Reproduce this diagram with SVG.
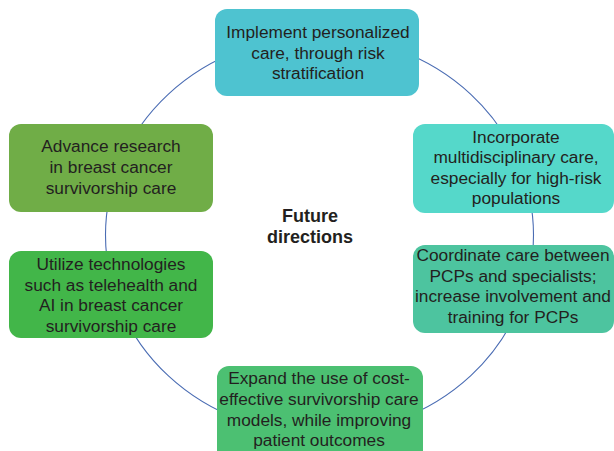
<svg xmlns="http://www.w3.org/2000/svg" width="614" height="451" viewBox="0 0 614 451">
  <style>
    .box { stroke: none; }
    .label { font-family: "Liberation Sans", Arial, sans-serif; font-size: 17.3px; fill: #231f20; text-anchor: middle; }
    .center { font-family: "Liberation Sans", Arial, sans-serif; font-size: 18px; font-weight: bold; fill: #231f20; text-anchor: middle; }
    .ring { fill: none; stroke: #4a6cb3; stroke-width: 1.1; }
  </style>
  <rect width="614" height="451" fill="#ffffff"/>

  <!-- connecting ring behind the nodes -->
  <g id="connectors">
    <ellipse class="ring" cx="319.5" cy="235" rx="214" ry="199"/>
  </g>

  <g id="center-label">
    <text class="center" x="310" y="222">Future</text>
    <text class="center" x="310" y="243">directions</text>
  </g>

  <g id="node-personalized">
    <rect class="box" x="215" y="9" width="204" height="87" rx="12" fill="#4ec3d0"/>
    <text class="label" x="318" y="38">Implement personalized</text>
    <text class="label" x="318" y="58.5">care, through risk</text>
    <text class="label" x="318" y="79">stratification</text>
  </g>

  <g id="node-multidisciplinary">
    <rect class="box" x="413" y="124" width="201" height="89" rx="12" fill="#55d8ca"/>
    <text class="label" x="516" y="142.5">Incorporate</text>
    <text class="label" x="516" y="163">multidisciplinary care,</text>
    <text class="label" x="516" y="183.5">especially for high-risk</text>
    <text class="label" x="516" y="204">populations</text>
  </g>

  <g id="node-coordinate">
    <rect class="box" x="413" y="245" width="201" height="88" rx="12" fill="#4dc49f"/>
    <text class="label" x="513" y="261">Coordinate care between</text>
    <text class="label" x="513" y="281.5">PCPs and specialists;</text>
    <text class="label" x="513" y="302">increase involvement and</text>
    <text class="label" x="513" y="322.5">training for PCPs</text>
  </g>

  <g id="node-cost-effective">
    <rect class="box" x="217" y="366" width="206" height="100" rx="12" fill="#4cc072"/>
    <text class="label" x="319" y="384">Expand the use of cost-</text>
    <text class="label" x="319" y="405">effective survivorship care</text>
    <text class="label" x="319" y="426">models, while improving</text>
    <text class="label" x="319" y="446">patient outcomes</text>
  </g>

  <g id="node-technologies">
    <rect class="box" x="9" y="251" width="204" height="87" rx="12" fill="#42b649"/>
    <text class="label" x="111" y="270">Utilize technologies</text>
    <text class="label" x="111" y="290.5">such as telehealth and</text>
    <text class="label" x="111" y="311">AI in breast cancer</text>
    <text class="label" x="111" y="331.5">survivorship care</text>
  </g>

  <g id="node-research">
    <rect class="box" x="9" y="124" width="204" height="88" rx="12" fill="#70ad47"/>
    <text class="label" x="111" y="152">Advance research</text>
    <text class="label" x="111" y="173">in breast cancer</text>
    <text class="label" x="111" y="194">survivorship care</text>
  </g>
</svg>
